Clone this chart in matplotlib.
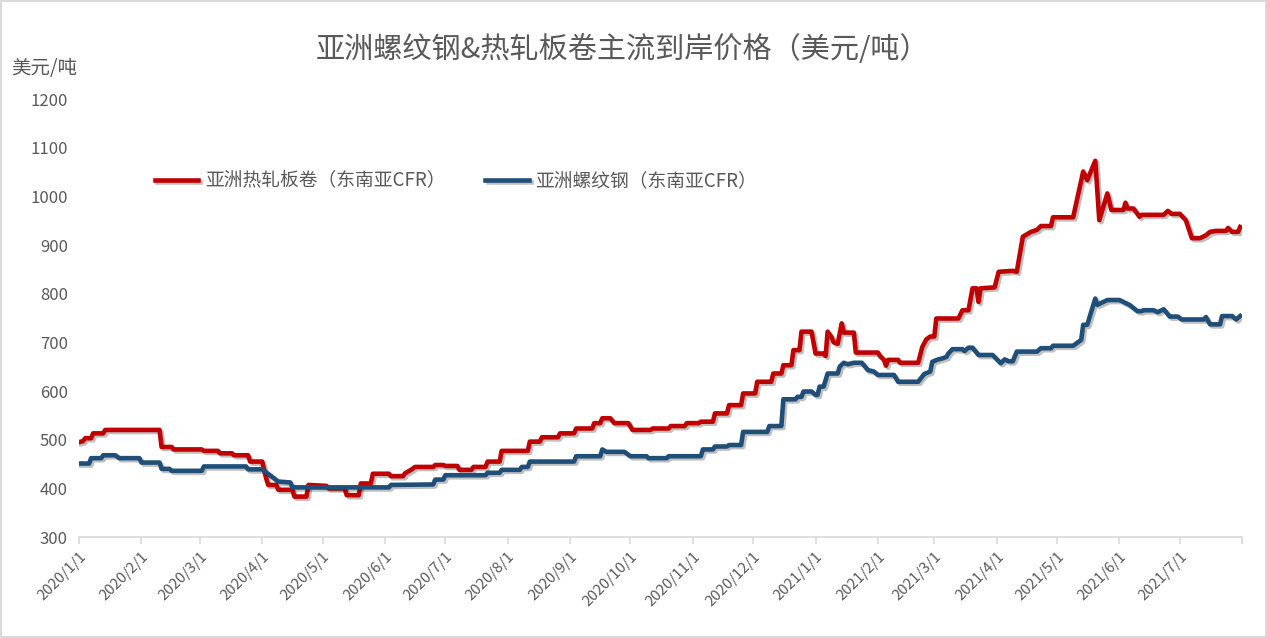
import matplotlib
matplotlib.use("Agg")
import matplotlib.pyplot as plt
import matplotlib.patheffects as pe
import pandas as pd

plt.rcParams['font.family'] = ['Noto Sans CJK SC', 'DejaVu Sans']

# 亚洲热轧板卷（东南亚CFR）
hrc_dates = [
    "2020/1/1", "2020/1/3", "2020/1/4", "2020/1/7", "2020/1/8", "2020/1/13", "2020/1/14", "2020/2/10",
    "2020/2/11", "2020/2/16", "2020/2/17", "2020/3/2", "2020/3/3", "2020/3/10", "2020/3/11", "2020/3/17",
    "2020/3/18", "2020/3/25", "2020/3/26", "2020/4/1", "2020/4/3", "2020/4/4", "2020/4/8", "2020/4/9",
    "2020/4/16", "2020/4/17", "2020/4/23", "2020/4/24", "2020/5/3", "2020/5/4", "2020/5/12", "2020/5/13",
    "2020/5/19", "2020/5/20", "2020/5/25", "2020/5/26", "2020/6/3", "2020/6/4", "2020/6/10", "2020/6/11",
    "2020/6/14", "2020/6/16", "2020/6/25", "2020/6/26", "2020/6/30", "2020/7/1", "2020/7/7", "2020/7/8",
    "2020/7/14", "2020/7/15", "2020/7/21", "2020/7/22", "2020/7/28", "2020/7/29", "2020/8/11", "2020/8/12",
    "2020/8/17", "2020/8/18", "2020/8/26", "2020/8/27", "2020/9/3", "2020/9/4", "2020/9/12", "2020/9/13",
    "2020/9/16", "2020/9/17", "2020/9/21", "2020/9/23", "2020/9/30", "2020/10/2", "2020/10/11", "2020/10/12",
    "2020/10/20", "2020/10/21", "2020/10/28", "2020/10/29", "2020/11/4", "2020/11/5", "2020/11/11", "2020/11/12",
    "2020/11/18", "2020/11/19", "2020/11/25", "2020/11/26", "2020/12/2", "2020/12/3", "2020/12/10", "2020/12/11",
    "2020/12/15", "2020/12/16", "2020/12/20", "2020/12/21", "2020/12/24", "2020/12/25", "2020/12/30", "2021/1/1",
    "2021/1/5", "2021/1/6", "2021/1/7", "2021/1/9", "2021/1/10", "2021/1/12", "2021/1/14", "2021/1/15",
    "2021/1/20", "2021/1/21", "2021/2/1", "2021/2/2", "2021/2/4", "2021/2/5", "2021/2/6", "2021/2/11",
    "2021/2/12", "2021/2/21", "2021/2/23", "2021/2/25", "2021/2/27", "2021/3/1", "2021/3/2", "2021/3/13",
    "2021/3/15", "2021/3/18", "2021/3/20", "2021/3/22", "2021/3/23", "2021/3/24", "2021/3/31", "2021/4/2",
    "2021/4/9", "2021/4/11", "2021/4/14", "2021/4/18", "2021/4/21", "2021/4/23", "2021/4/28", "2021/4/29",
    "2021/5/9", "2021/5/14", "2021/5/16", "2021/5/20", "2021/5/22", "2021/5/26", "2021/5/28", "2021/6/3",
    "2021/6/4", "2021/6/5", "2021/6/8", "2021/6/11", "2021/6/12", "2021/6/23", "2021/6/25", "2021/6/27",
    "2021/7/1", "2021/7/4", "2021/7/7", "2021/7/11", "2021/7/14", "2021/7/16", "2021/7/19", "2021/7/24",
    "2021/7/25", "2021/7/27", "2021/7/30", "2021/7/31",
]
hrc_price = [
    495, 497, 503, 503, 513, 513, 520, 520,
    485, 485, 480, 480, 477, 477, 472, 472,
    468, 468, 455, 455, 420, 407, 407, 397,
    397, 383, 383, 407, 405, 400, 400, 386,
    386, 410, 410, 430, 430, 425, 425, 431,
    438, 444, 444, 448, 448, 446, 446, 438,
    438, 444, 444, 455, 455, 477, 477, 496,
    496, 505, 505, 513, 513, 523, 523, 534,
    534, 544, 544, 534, 534, 520, 520, 523,
    523, 528, 528, 534, 534, 537, 537, 554,
    554, 571, 571, 595, 595, 619, 619, 636,
    636, 653, 653, 684, 684, 722, 722, 677,
    677, 672, 722, 710, 700, 697, 739, 720,
    720, 679, 679, 672, 664, 652, 664, 664,
    658, 658, 690, 706, 712, 712, 749, 749,
    766, 766, 811, 811, 783, 811, 813, 845,
    847, 845, 917, 927, 931, 939, 939, 957,
    957, 1051, 1033, 1073, 951, 1006, 972, 972,
    987, 975, 975, 958, 962, 962, 970, 964,
    964, 951, 914, 914, 920, 927, 929, 929,
    935, 927, 927, 937,
]

# 亚洲螺纹钢（东南亚CFR）
rebar_dates = [
    "2020/1/1", "2020/1/6", "2020/1/7", "2020/1/12", "2020/1/13", "2020/1/19", "2020/1/21", "2020/1/31",
    "2020/2/1", "2020/2/10", "2020/2/11", "2020/2/15", "2020/2/16", "2020/3/2", "2020/3/3", "2020/3/24",
    "2020/3/25", "2020/4/1", "2020/4/9", "2020/4/15", "2020/4/16", "2020/6/3", "2020/6/4", "2020/6/25",
    "2020/6/26", "2020/6/30", "2020/7/1", "2020/7/21", "2020/7/22", "2020/7/28", "2020/7/29", "2020/8/7",
    "2020/8/8", "2020/8/11", "2020/8/12", "2020/9/3", "2020/9/4", "2020/9/16", "2020/9/17", "2020/9/19",
    "2020/9/28", "2020/10/1", "2020/10/9", "2020/10/10", "2020/10/19", "2020/10/20", "2020/11/5", "2020/11/6",
    "2020/11/11", "2020/11/12", "2020/11/18", "2020/11/19", "2020/11/25", "2020/11/26", "2020/12/8", "2020/12/9",
    "2020/12/15", "2020/12/16", "2020/12/22", "2020/12/23", "2020/12/25", "2020/12/26", "2020/12/30", "2021/1/1",
    "2021/1/2", "2021/1/3", "2021/1/5", "2021/1/7", "2021/1/12", "2021/1/13", "2021/1/15", "2021/1/17",
    "2021/1/20", "2021/1/24", "2021/1/27", "2021/1/30", "2021/2/1", "2021/2/9", "2021/2/11", "2021/2/21",
    "2021/2/24", "2021/2/27", "2021/2/28", "2021/3/3", "2021/3/5", "2021/3/7", "2021/3/8", "2021/3/10",
    "2021/3/15", "2021/3/16", "2021/3/18", "2021/3/20", "2021/3/23", "2021/3/30", "2021/4/3", "2021/4/5",
    "2021/4/7", "2021/4/9", "2021/4/11", "2021/4/21", "2021/4/23", "2021/4/28", "2021/4/29", "2021/5/9",
    "2021/5/13", "2021/5/14", "2021/5/16", "2021/5/20", "2021/5/21", "2021/5/26", "2021/6/1", "2021/6/3",
    "2021/6/6", "2021/6/10", "2021/6/12", "2021/6/13", "2021/6/18", "2021/6/20", "2021/6/23", "2021/6/26",
    "2021/6/30", "2021/7/2", "2021/7/13", "2021/7/14", "2021/7/16", "2021/7/21", "2021/7/22", "2021/7/27",
    "2021/7/29", "2021/7/31",
]
rebar_price = [
    451, 451, 462, 462, 468, 468, 462, 462,
    453, 453, 440, 440, 436, 436, 445, 445,
    439, 439, 414, 412, 402, 402, 407, 408,
    418, 418, 427, 427, 432, 432, 438, 438,
    444, 444, 455, 455, 466, 466, 480, 475,
    475, 466, 466, 462, 462, 466, 466, 480,
    480, 486, 486, 489, 489, 516, 516, 528,
    528, 583, 583, 588, 588, 599, 599, 592,
    592, 609, 609, 636, 636, 650, 658, 655,
    658, 658, 643, 640, 633, 633, 619, 619,
    635, 640, 660, 665, 667, 670, 677, 686,
    686, 682, 689, 689, 674, 674, 657, 665,
    661, 661, 681, 681, 688, 688, 693, 693,
    705, 736, 736, 790, 777, 787, 787, 783,
    777, 764, 764, 766, 766, 762, 768, 753,
    753, 747, 747, 752, 737, 737, 754, 754,
    747, 754,
]

month_ticks = pd.date_range("2020-01-01", "2021-08-01", freq="MS")
tick_labels = [f"{d.year}/{d.month}/{d.day}" for d in month_ticks[:-1]] + [""]

hrc_x = pd.to_datetime(hrc_dates, format="%Y/%m/%d")
rebar_x = pd.to_datetime(rebar_dates, format="%Y/%m/%d")

text_color = "#595959"
shadow = [pe.SimpleLineShadow(offset=(1.5, -1.5), shadow_color="black", alpha=0.25), pe.Normal()]

fig = plt.figure(figsize=(12.67, 6.38), dpi=100)
fig.patch.set_edgecolor("#D9D9D9")
fig.patch.set_linewidth(1.5)
ax = fig.add_axes([0.0624, 0.1583, 0.918, 0.6865])

ax.plot(hrc_x, hrc_price, color="#C00000", lw=3.3, label="亚洲热轧板卷（东南亚CFR）",
        path_effects=shadow, solid_joinstyle="round")
ax.plot(rebar_x, rebar_price, color="#1F4E79", lw=3.3, label="亚洲螺纹钢（东南亚CFR）",
        path_effects=shadow, solid_joinstyle="round")

ax.set_xlim(month_ticks[0], month_ticks[-1])
ax.set_ylim(300, 1200)
ax.set_yticks(range(300, 1201, 100))
ax.tick_params(axis="y", length=0, labelsize=12, labelcolor=text_color, pad=8)
ax.set_xticks(month_ticks)
ax.set_xticklabels(tick_labels, rotation=45, ha="right", rotation_mode="anchor",
                   fontsize=10.8, color=text_color)
ax.tick_params(axis="x", length=5, color="#D9D9D9", width=1.2, pad=4)

for side in ["top", "right", "left"]:
    ax.spines[side].set_visible(False)
ax.spines["bottom"].set_color("#D9D9D9")
ax.spines["bottom"].set_linewidth(1.2)

fig.text(0.491, 0.922, "亚洲螺纹钢&热轧板卷主流到岸价格（美元/吨）", ha="center", va="center",
         fontsize=21, color=text_color)
fig.text(0.009, 0.893, "美元/吨", ha="left", va="center", fontsize=14, color=text_color)

leg = fig.legend(loc="center left", bbox_to_anchor=(0.1223, 0.716), ncol=2, frameon=False,
                 fontsize=13.5, handlelength=2.3, columnspacing=2.15, handletextpad=0.35,
                 borderpad=0, borderaxespad=0)
for t in leg.get_texts():
    t.set_color(text_color)

plt.savefig("out.png", dpi=100)
